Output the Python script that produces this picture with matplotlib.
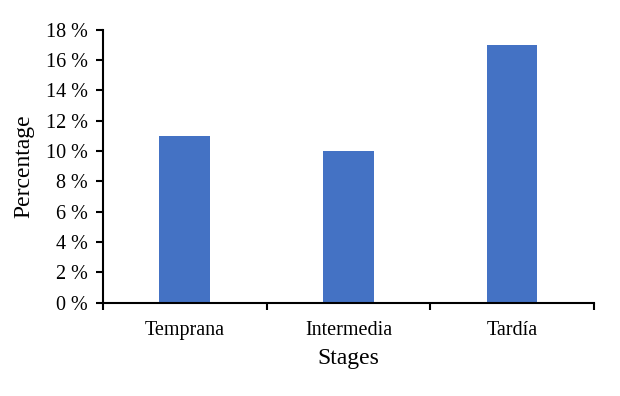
import matplotlib
matplotlib.use("Agg")
import matplotlib.pyplot as plt
from matplotlib.ticker import FixedLocator

# datos
etapas = ["Temprana", "Intermedia", "Tardía"]
porcentajes = [11, 10, 17]
ticks_y = [0, 2, 4, 6, 8, 10, 12, 14, 16, 18]

plt.rcParams["font.family"] = ["Liberation Serif", "DejaVu Serif"]

fig = plt.figure(figsize=(6.2, 3.96), dpi=100)
ax = fig.add_axes([0.166, 0.236, 0.792, 0.6895])

x = list(range(len(etapas)))
ax.bar(x, porcentajes, width=0.31, color="#4472C4", zorder=2)

ax.set_xlim(-0.5, len(etapas) - 0.5)
ax.set_ylim(0, 18)
ax.set_yticks(ticks_y)
ax.set_yticklabels([f"{t} %" for t in ticks_y], fontsize=14.5)
ax.set_xticks(x)
ax.set_xticklabels(etapas, fontsize=14.5)

# ticks entre categorias
ax.xaxis.set_minor_locator(FixedLocator([i - 0.5 for i in range(len(etapas) + 1)]))
ax.tick_params(axis="x", which="major", length=0, pad=13)
ax.tick_params(axis="x", which="minor", length=5, width=1.5, direction="out")
ax.tick_params(axis="y", length=5, width=1.5, direction="out", pad=6)

for s in ["top", "right"]:
    ax.spines[s].set_visible(False)
ax.spines["left"].set_linewidth(1.5)
ax.spines["bottom"].set_linewidth(1.5)

ax.set_xlabel("Stages", fontsize=17, labelpad=6)
ax.set_ylabel("Percentage", fontsize=17, labelpad=8)

fig.savefig("out.png", dpi=100)
